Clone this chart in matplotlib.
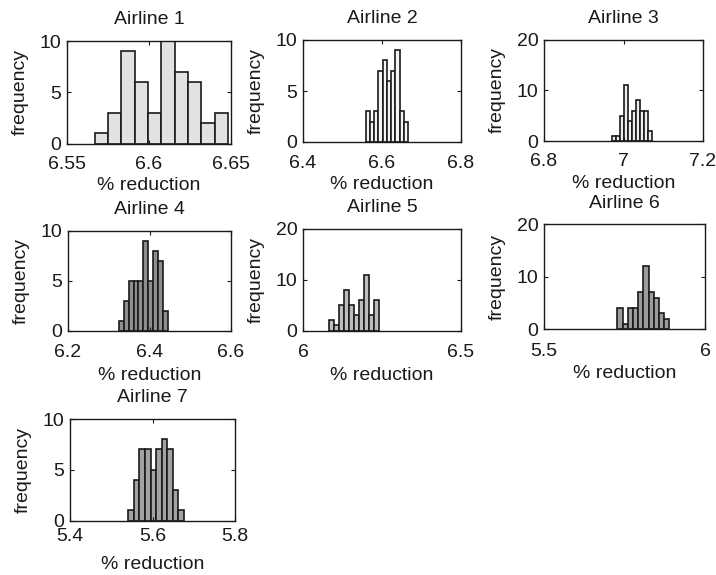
import numpy as np
import matplotlib
matplotlib.use("Agg")
import matplotlib.pyplot as plt

plt.rcParams['font.family'] = ['Liberation Sans', 'DejaVu Sans']

titles = ["Airline 1", "Airline 2", "Airline 3", "Airline 4",
          "Airline 5", "Airline 6", "Airline 7"]

# histogram counts (10 bins each) and the data range spanned by the bins
counts_1 = [1, 3, 9, 6, 3, 10, 7, 6, 2, 3]
counts_2 = [3, 2, 3, 7, 8, 6, 7, 9, 3, 2]
counts_3 = [1, 1, 5, 11, 4, 6, 8, 6, 6, 2]
counts_4 = [1, 3, 5, 5, 5, 9, 5, 8, 7, 2]
counts_5 = [2, 1, 5, 8, 5, 3, 6, 11, 3, 6]
counts_6 = [4, 1, 4, 4, 7, 12, 7, 6, 3, 2]
counts_7 = [1, 4, 7, 7, 5, 7, 8, 7, 3, 1]

ranges = [(6.5668, 6.6483), (6.559, 6.666), (6.972, 7.072), (6.3254, 6.4443),
          (6.0826, 6.2415), (5.7279, 5.889), (5.5414, 5.6764)]

xlims = [(6.55, 6.65), (6.4, 6.8), (6.8, 7.2), (6.2, 6.6),
         (6.0, 6.5), (5.5, 6.0), (5.4, 5.8)]
xticks = [[6.55, 6.6, 6.65], [6.4, 6.6, 6.8], [6.8, 7, 7.2], [6.2, 6.4, 6.6],
          [6, 6.5], [5.5, 6], [5.4, 5.6, 5.8]]
xticklabels = [["6.55", "6.6", "6.65"], ["6.4", "6.6", "6.8"], ["6.8", "7", "7.2"],
               ["6.2", "6.4", "6.6"], ["6", "6.5"], ["5.5", "6"], ["5.4", "5.6", "5.8"]]
ymaxes = [10, 10, 20, 10, 20, 20, 10]

all_counts = [counts_1, counts_2, counts_3, counts_4, counts_5, counts_6, counts_7]
fills = ["#e2e2e2", "#f4f4f4", "#ededed", "#8e8e8e", "#bdbdbd", "#9c9c9c", "#a2a2a2"]

W, H = 716, 575
# axes boxes in pixels: left, top, right, bottom
boxes = [(67, 41, 231, 143.5), (303, 40, 461, 142), (544, 39.5, 703, 141),
         (68, 230.5, 231, 330.5), (303, 229, 461, 330.5), (544, 224.5, 705, 329),
         (70, 419, 235, 520.5)]
# tick-label pad and x-label pad per row of panels
row_pads = [(9, 3), (10, 4), (5.5, 8)]

FS = 14
INK = "#1a1a1a"

fig = plt.figure(figsize=(W / 100, H / 100), dpi=100)

for i in range(7):
    l, t, r, b = boxes[i]
    ax = fig.add_axes([l / W, 1 - b / H, (r - l) / W, (b - t) / H])
    lo, hi = ranges[i]
    edges = np.linspace(lo, hi, len(all_counts[i]) + 1)
    centers = 0.5 * (edges[:-1] + edges[1:])
    ax.hist(centers, bins=edges, weights=all_counts[i], color=fills[i],
            edgecolor=INK, linewidth=1.2)
    ax.set_xlim(*xlims[i])
    ax.set_ylim(0, ymaxes[i])
    ax.set_xticks(xticks[i])
    ax.set_xticklabels(xticklabels[i])
    ax.set_yticks([0, ymaxes[i] / 2, ymaxes[i]])
    ax.set_yticklabels([str(int(v)) for v in [0, ymaxes[i] / 2, ymaxes[i]]])
    tpad, lpad = row_pads[i // 3]
    ax.tick_params(direction="in", length=3, width=0.8, top=True, right=True,
                   labelsize=FS, colors=INK)
    ax.tick_params(axis="x", pad=tpad)
    ax.tick_params(axis="y", pad=4)
    for s in ax.spines.values():
        s.set_linewidth(1.0)
        s.set_color(INK)
    ax.set_title(titles[i], fontsize=FS, pad=12, color=INK)
    ax.set_xlabel("% reduction", fontsize=FS, labelpad=lpad, color=INK)
    ax.set_ylabel("frequency", fontsize=FS, labelpad=8, color=INK)

fig.savefig("out.png", dpi=100, facecolor="white")
